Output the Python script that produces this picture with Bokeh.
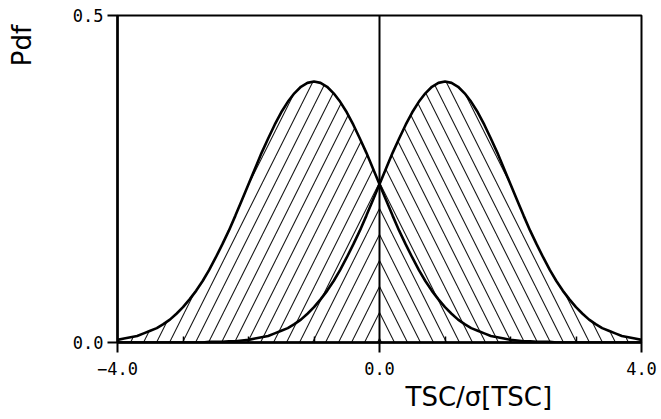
from math import pi

from bokeh.core.properties import value
from bokeh.embed import file_html
from bokeh.layouts import row
from bokeh.models import FixedTicker, Range1d, Span, Title
from bokeh.plotting import figure
from bokeh.resources import INLINE

# Standardised test statistic grid and the two density curves (H0 centred at -1, H1 at +1)
tsc = [-4.0, -3.9, -3.8, -3.7, -3.6, -3.5, -3.4, -3.3, -3.2, -3.1,
       -3.0, -2.9, -2.8, -2.7, -2.6, -2.5, -2.4, -2.3, -2.2, -2.1,
       -2.0, -1.9, -1.8, -1.7, -1.6, -1.5, -1.4, -1.3, -1.2, -1.1,
       -1.0, -0.9, -0.8, -0.7, -0.6, -0.5, -0.4, -0.3, -0.2, -0.1,
       0.0, 0.1, 0.2, 0.3, 0.4, 0.5, 0.6, 0.7, 0.8, 0.9,
       1.0, 1.1, 1.2, 1.3, 1.4, 1.5, 1.6, 1.7, 1.8, 1.9,
       2.0, 2.1, 2.2, 2.3, 2.4, 2.5, 2.6, 2.7, 2.8, 2.9,
       3.0, 3.1, 3.2, 3.3, 3.4, 3.5, 3.6, 3.7, 3.8, 3.9, 4.0]
pdf_left = [0.004, 0.006, 0.008, 0.010, 0.014, 0.018, 0.022, 0.028, 0.035, 0.044,
            0.054, 0.066, 0.079, 0.094, 0.111, 0.130, 0.150, 0.171, 0.194, 0.218,
            0.242, 0.266, 0.290, 0.312, 0.333, 0.352, 0.368, 0.381, 0.391, 0.397,
            0.399, 0.397, 0.391, 0.381, 0.368, 0.352, 0.333, 0.312, 0.290, 0.266,
            0.242, 0.218, 0.194, 0.171, 0.150, 0.130, 0.111, 0.094, 0.079, 0.066,
            0.054, 0.044, 0.035, 0.028, 0.022, 0.018, 0.014, 0.010, 0.008, 0.006,
            0.004, 0.003, 0.002, 0.002, 0.001, 0.001, 0.001, 0.000, 0.000, 0.000,
            0.000, 0.000, 0.000, 0.000, 0.000, 0.000, 0.000, 0.000, 0.000, 0.000, 0.000]
pdf_right = [0.000, 0.000, 0.000, 0.000, 0.000, 0.000, 0.000, 0.000, 0.000, 0.000,
             0.000, 0.000, 0.000, 0.000, 0.001, 0.001, 0.001, 0.002, 0.002, 0.003,
             0.004, 0.006, 0.008, 0.010, 0.014, 0.018, 0.022, 0.028, 0.035, 0.044,
             0.054, 0.066, 0.079, 0.094, 0.111, 0.130, 0.150, 0.171, 0.194, 0.218,
             0.242, 0.266, 0.290, 0.312, 0.333, 0.352, 0.368, 0.381, 0.391, 0.397,
             0.399, 0.397, 0.391, 0.381, 0.368, 0.352, 0.333, 0.312, 0.290, 0.266,
             0.242, 0.218, 0.194, 0.171, 0.150, 0.130, 0.111, 0.094, 0.079, 0.066,
             0.054, 0.044, 0.035, 0.028, 0.022, 0.018, 0.014, 0.010, 0.008, 0.006, 0.004]

x_ticks = [-4.0, 0.0, 4.0]
x_tick_labels = ["\u22124.0", "0.0", "4.0"]
x_minor_ticks = [-3.0, -2.0, -1.0, 1.0, 2.0, 3.0]
y_ticks = [0.0, 0.5]
y_tick_labels = ["0.0", "0.5"]
threshold = 0.0

# strip on the left carrying the rotated y title, in pixel units
strip = figure(width=60, height=419, output_backend="svg", toolbar_location=None,
               x_range=Range1d(0, 60), y_range=Range1d(0, 419),
               x_axis_type=None, y_axis_type=None,
               min_border_left=0, min_border_right=0,
               min_border_top=0, min_border_bottom=0)
strip.grid.visible = False
strip.outline_line_color = None
strip.text(x=[21], y=[354], text=["Pdf"], angle=pi / 2,
           text_font=value("DejaVu Sans"), text_font_size="26px",
           text_align="left", text_baseline="middle", text_color="black")

p = figure(width=601, height=419, output_backend="svg", toolbar_location=None,
           x_range=Range1d(-4.0, 4.0), y_range=Range1d(0.0, 0.5),
           min_border_left=57, min_border_right=20,
           min_border_top=15, min_border_bottom=77)
p.grid.visible = False
p.outline_line_color = "black"
p.outline_line_width = 2

# hatched tails: left density below the threshold, right density above it
mid = tsc.index(threshold)
p.varea(x=tsc[:mid + 1], y1=0, y2=pdf_left[:mid + 1], fill_alpha=0,
        hatch_pattern="/", hatch_color="black", hatch_scale=26, hatch_weight=1.1,
        hatch_alpha=0.9)
p.varea(x=tsc[mid:], y1=0, y2=pdf_right[mid:], fill_alpha=0,
        hatch_pattern="\\", hatch_color="black", hatch_scale=26, hatch_weight=1.1,
        hatch_alpha=0.9)

p.line(tsc, pdf_left, line_color="black", line_width=2.6)
p.line(tsc, pdf_right, line_color="black", line_width=2.6)

p.add_layout(Span(location=threshold, dimension="height",
                  line_color="black", line_width=2))

for ax in (p.xaxis[0], p.yaxis[0]):
    ax.axis_line_width = 2.5
    ax.major_tick_line_width = 2
    ax.major_tick_out = 10
    ax.major_tick_in = 0
    ax.major_label_text_font = "DejaVu Sans Mono"
    ax.major_label_text_font_size = "17px"
    ax.major_label_text_color = "black"

p.xaxis.ticker = FixedTicker(ticks=x_ticks, minor_ticks=x_minor_ticks)
p.xaxis.major_label_overrides = dict(zip(x_ticks, x_tick_labels))
p.xaxis.minor_tick_in = 6
p.xaxis.minor_tick_out = 0
p.xaxis.minor_tick_line_width = 1.5
p.xaxis.major_label_standoff = 9

p.yaxis.ticker = FixedTicker(ticks=y_ticks)
p.yaxis.major_label_overrides = dict(zip(y_ticks, y_tick_labels))
p.yaxis.minor_tick_line_color = None
p.yaxis.major_label_standoff = 4

# x title sits right of centre below the axis
p.add_layout(Title(text="TSC/\u03c3[TSC]", align="left", offset=288,
                   vertical_align="top", standoff=9,
                   text_font="DejaVu Sans", text_font_size="26px",
                   text_font_style="normal", text_color="black"),
             "below")

layout = row(strip, p, spacing=0)
open("out.html", "w").write(file_html(layout, INLINE))
